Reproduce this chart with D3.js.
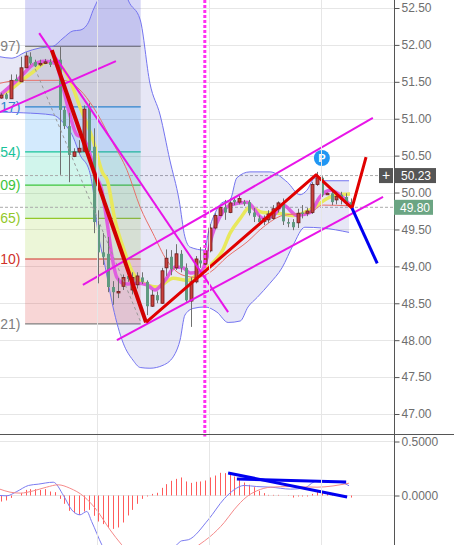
<!DOCTYPE html>
<html><head><meta charset="utf-8">
<script src="https://cdn.jsdelivr.net/npm/d3@7"></script>
<style>html,body{margin:0;padding:0;background:#fff;overflow:hidden}svg{display:block}text{font-family:"Liberation Sans",Arial,sans-serif}</style>
</head><body><div id="c"></div>
<script>
// candles: open, high, low, close
const candles=[
[51.28,51.35,51.27,51.32],[51.33,51.35,51.26,51.27],[51.27,51.60,51.27,51.52],[51.54,51.60,51.51,51.51],
[51.50,51.84,51.50,51.69],[51.69,51.90,51.69,51.85],[51.84,51.90,51.73,51.75],[51.77,51.80,51.70,51.71],
[51.73,51.80,51.71,51.75],[51.75,51.81,51.74,51.77],[51.77,51.81,51.70,51.73],[51.77,51.82,51.75,51.80],
[51.80,51.97,50.24,51.12],[51.12,51.16,50.86,50.90],[50.90,51.08,50.14,50.51],[50.49,50.60,50.48,50.55],
[50.55,50.71,50.53,50.60],[50.56,51.18,50.55,51.13],[51.16,51.21,50.55,50.57],[50.62,50.87,49.45,49.60],
[49.56,49.76,48.77,49.19],[49.19,49.45,49.02,49.13],[49.17,49.40,48.65,48.72],[48.72,48.80,48.48,48.65],
[48.64,48.84,48.57,48.66],[48.73,48.89,48.68,48.85],[48.87,48.92,48.79,48.83],[48.68,48.92,48.62,48.85],
[48.75,48.92,48.70,48.87],[48.85,48.92,48.76,48.79],[48.79,48.81,48.34,48.46],[48.46,48.68,48.45,48.61],
[48.61,48.66,48.50,48.54],[48.50,48.98,48.49,48.94],[48.98,49.23,48.87,49.11],[49.13,49.22,48.88,48.96],
[48.98,49.30,48.95,49.17],[49.17,49.22,48.92,48.98],[48.98,49.04,48.52,48.54],[48.53,48.85,48.18,48.79],
[48.79,49.14,48.77,49.10],[49.08,49.26,48.98,49.04],[49.03,49.35,49.02,49.21],[49.21,49.57,49.19,49.52],
[49.52,49.72,49.50,49.69],[49.69,49.83,49.68,49.80],[49.80,49.90,49.63,49.73],[49.73,49.92,49.72,49.86],
[49.90,49.94,49.83,49.87],[49.87,49.97,49.84,49.92],[49.87,49.90,49.82,49.85],[49.87,49.90,49.69,49.72],
[49.73,49.79,49.60,49.67],[49.65,49.69,49.55,49.60],[49.61,49.69,49.56,49.65],[49.63,49.76,49.59,49.71],
[49.65,49.83,49.63,49.78],[49.78,49.88,49.73,49.86],[49.86,49.92,49.56,49.61],[49.60,49.65,49.53,49.59],
[49.60,49.64,49.49,49.53],[49.59,49.78,49.52,49.72],[49.73,49.83,49.65,49.71],[49.72,49.79,49.68,49.75],
[49.73,50.14,49.71,50.11],[50.11,50.28,50.09,50.20],[50.20,50.22,49.94,49.97],[49.98,50.00,49.97,49.99],
[49.99,50.03,49.83,49.87],[49.90,50.01,49.84,49.95],[49.97,50.01,49.84,49.90],[49.94,49.99,49.82,49.86],
[49.87,49.92,49.78,49.80]];
const bbUpper=[[-0.3,51.84],[2.2,51.82],[4.9,51.90],[8,51.96],[10.6,51.98],[12.7,52.09],[14.8,52.19],[16.2,52.20],[17.9,52.30],[18.9,52.47],[19.9,52.61],[21.4,52.81],[23.4,52.95],[24.9,52.85],[26.1,52.61],[28.6,52.34],[30.6,51.48],[32.7,51.05],[34.7,50.44],[36.6,49.90],[37.8,49.40],[38.9,49.26],[41.9,49.22],[42.6,49.45],[44,49.72],[45.4,49.86],[47.1,49.90],[48.5,50.20],[51.2,50.28],[55.3,50.28],[58.9,50.14],[61.5,49.97],[62.9,50.03],[64.6,50.20],[66.6,50.16],[71.6,50.16]];
const bbLower=[[-0.3,51.09],[4.5,51.08],[10.6,51.05],[12.7,50.95],[14.8,50.75],[16.2,50.51],[18.1,50.30],[18.9,50.03],[19.7,49.56],[21.4,48.99],[23,48.45],[25.1,47.96],[27.1,47.73],[28.6,47.63],[30.6,47.62],[33.3,47.66],[35.8,47.82],[36.8,48.0],[37.8,48.34],[39.5,48.43],[41.9,48.45],[44.4,48.38],[46.7,48.24],[49.2,48.26],[50.8,48.45],[52.7,48.58],[55.3,48.77],[57.8,48.98],[60.1,49.29],[62.5,49.53],[66,49.52],[71.6,49.46]];
const maFast=[[-0.3,51.32],[3.9,51.56],[6.5,51.73],[9,51.78],[11.1,51.75],[12.5,51.48],[13.7,51.16],[15.6,50.78],[16.6,50.75],[17.9,50.60],[19.3,50.26],[20.7,50.03],[21.8,49.59],[22.8,49.13],[23.8,48.85],[25.5,48.76],[27.9,48.77],[30,48.75],[31.6,48.68],[33.7,48.81],[35.8,48.99],[37.4,48.98],[38.9,48.91],[40.9,48.92],[42.4,49.13],[43.4,49.42],[45,49.67],[47.1,49.83],[50.6,49.87],[53.9,49.65],[56,49.69],[58,49.83],[60.9,49.69],[63.6,49.73],[65.6,49.94],[67.7,50.03],[69.7,49.97],[71.8,49.83]];
const maMid=[[-0.3,51.32],[1.8,51.39],[3.9,51.50],[6.5,51.63],[9.4,51.77],[11.5,51.75],[14.1,51.52],[16.2,51.16],[18.9,50.71],[20.9,50.26],[21.8,50.17],[23.4,49.63],[25.5,49.18],[27.1,48.91],[30,48.75],[32.1,48.72],[35.4,48.84],[38.2,48.81],[40.9,48.92],[43.4,49.04],[45.6,49.22],[47.1,49.45],[49.2,49.65],[51.2,49.80],[53.9,49.73],[56.8,49.72],[60.1,49.69],[64.2,49.79],[67.1,49.92],[69.1,49.97],[71.8,49.98]];
const maSlow=[[-0.3,51.48],[3.9,51.52],[8.6,51.52],[12.7,51.52],[16.2,51.39],[18.9,51.16],[23,50.67],[25.9,50.30],[28.6,49.80],[31.2,49.45],[34.1,49.08],[37.4,48.88],[40.3,48.85],[43,48.92],[46.5,49.13],[50.6,49.33],[53.9,49.53],[58,49.69],[63.6,49.73],[66.2,49.83],[71.8,49.82]];
const hist=[-0.056,-0.046,-0.022,0,0.022,0.052,0.059,0.059,0.052,0.059,0.037,0.031,-0.031,-0.077,-0.142,-0.164,-0.179,-0.148,-0.133,-0.188,-0.241,-0.265,-0.296,-0.309,-0.296,-0.25,-0.185,-0.133,-0.077,-0.031,-0.009,0.015,0.025,0.071,0.105,0.136,0.154,0.167,0.130,0.117,0.127,0.130,0.139,0.167,0.185,0.21,0.207,0.198,0.176,0.145,0.12,0.099,0.077,0.043,0.022,0.006,0.006,0.006,0,-0.003,-0.019,-0.009,-0.009,-0.009,0.015,0.037,0.028,0.015,0.009,0.003,0,-0.006,-0.019];
const macd=[[-0.3,0],[1.1,-0.003],[3.2,0.037],[5.6,0.093],[7.6,0.105],[10.7,0.123],[12.8,0],[14.5,-0.133],[16.2,-0.179],[17.6,-0.148],[18.6,-0.241],[20.7,-0.457],[24,-0.70],[28,-0.75],[33,-0.55],[36.1,-0.457],[37.1,-0.42],[38.5,-0.41],[42.6,-0.225],[45.9,-0.03],[47.9,0.052],[50,0.093],[52.6,0.083],[55.5,0.077],[59.6,0.059],[62.3,0.068],[64.8,0.13],[69.9,0.12],[71.6,0.09]];
const signal=[[-0.3,0.059],[1.8,0.031],[3.9,0.022],[6.6,0.043],[9.3,0.077],[11.7,0.099],[14.1,0.068],[17,-0.009],[19.6,-0.133],[22.4,-0.318],[24.8,-0.457],[28,-0.6],[32,-0.65],[36,-0.62],[40.7,-0.457],[43,-0.38],[45.9,-0.25],[47.9,-0.133],[50.6,-0.009],[52.6,0.043],[55.5,0.077],[59.6,0.083],[65,0.077],[71.6,0.114]];
const fibLevels=[51.98,51.16,50.55,50.10,49.65,49.10,48.22];
const fibLabels=["97)","17)","54)","09)","65)","10)","21)"];
const fibColors=["#808080","#2a8ccf","#19c39a","#3cc43c","#93c82a","#d0322a","#808080"];
const fibFills=["rgba(100,100,225,.26)","rgba(120,120,120,.2)","rgba(33,150,243,.2)","rgba(0,200,150,.18)","rgba(76,200,60,.2)","rgba(160,210,60,.2)","rgba(220,50,50,.2)"];
const channels=[[[16.8,48.75],[76.5,51.01]],[[23.8,48.00],[78.6,49.94]],[[-0.3,51.09],[23.6,51.78]],[[7.8,52.16],[46.7,48.38]]];
const redFirstLeg=[[10.4,51.93],[29.8,48.24]];
const redPath=[[29.8,48.24],[64.8,50.24],[72.2,49.79],[75.1,50.48]];
const bluePath=[[72.2,49.79],[77.4,49.04]];
const fibDiagonal=[[6.5,51.75],[28.8,48.23]];
const macdTrends=[[[46.7,0.208],[71.2,-0.014]],[[48.5,0.153],[71,0.125]]];
const priceTicks=d3.range(47,52.51,0.5);
const macdTicks=[0.5,0,-0.5];
const timeGrid=[20,43,66];
const eventBar=41.9,lastPrice=49.80,crossPrice=50.23,patternBar=66;

const W=454,H=545,axisX=394.5,sepY=434.5;
const x=d3.scaleLinear().domain([0,72]).range([1.3,351]);
const y=d3.scaleLinear().domain([47,52.5]).range([414,8]);
const m=d3.scaleLinear().domain([-0.5,0.5]).range([549.5,441.5]);
const svg=d3.select("#c").append("svg").attr("width",W).attr("height",H);
const defs=svg.append("defs");
defs.append("clipPath").attr("id","main").append("rect").attr("width",axisX).attr("height",sepY);
defs.append("clipPath").attr("id","sub").append("rect").attr("y",sepY).attr("width",axisX).attr("height",H-sepY);
const grid="#e6e6e6";
const g=svg.append("g").attr("clip-path","url(#main)");
const s=svg.append("g").attr("clip-path","url(#sub)");
// grid
g.selectAll(".h").data(priceTicks).join("line").attr("x1",0).attr("x2",axisX).attr("y1",d=>Math.round(y(d))+.5).attr("y2",d=>Math.round(y(d))+.5).attr("stroke",grid);
s.selectAll(".h").data(macdTicks).join("line").attr("x1",0).attr("x2",axisX).attr("y1",d=>Math.floor(m(d))+.5).attr("y2",d=>Math.floor(m(d))+.5).attr("stroke",grid);
svg.selectAll(".v").data(timeGrid).join("line").attr("x1",d=>Math.round(x(d))-.5).attr("x2",d=>Math.round(x(d))-.5).attr("y1",0).attr("y2",H).attr("stroke",grid);
// fib
const fx0=x(4.9),fx1=x(28.7);
const bands=[y(52.61)].concat(fibLevels.map(d=>y(d)));
g.selectAll(".fb").data(fibFills).join("rect").attr("x",fx0).attr("width",fx1-fx0).attr("y",(d,i)=>bands[i]).attr("height",(d,i)=>bands[i+1]-bands[i]).attr("fill",d=>d);
g.selectAll(".fl").data(fibLevels).join("line").attr("x1",fx0).attr("x2",fx1).attr("y1",d=>y(d)).attr("y2",d=>y(d)).attr("stroke",(d,i)=>fibColors[i]).attr("stroke-width",1.2);
g.selectAll(".ft").data(fibLevels).join("text").attr("x",20.5).attr("y",d=>y(d)+5).attr("text-anchor","end").attr("font-size",14).attr("fill",(d,i)=>fibColors[i]).text((d,i)=>fibLabels[i]);
// dashed price lines
g.selectAll(".pl").data([crossPrice,lastPrice]).join("line").attr("x1",0).attr("x2",axisX).attr("y1",d=>y(d)).attr("y2",d=>y(d)).attr("stroke","#aaa").attr("stroke-dasharray","3,2");
// Bollinger
const cv=d3.curveMonotoneX;
const lineP=d3.line().x(d=>x(d[0])).y(d=>y(d[1]));
const lineC=d3.line().x(d=>x(d[0])).y(d=>y(d[1])).curve(cv);
g.append("path").attr("d",lineC(bbUpper)+"L"+lineC(bbLower.slice().reverse()).slice(1)+"Z").attr("fill","rgba(85,85,190,.14)");
g.selectAll(".bb").data([bbUpper,bbLower]).join("path").attr("d",lineC).attr("fill","none").attr("stroke","#7474f0").attr("stroke-width",1);
// MAs
g.append("path").attr("d",lineC(maMid)).attr("fill","none").attr("stroke","#e8e85c").attr("stroke-width",3.5);
g.append("path").attr("d",lineC(maFast)).attr("fill","none").attr("stroke","#e05ee0").attr("stroke-width",3.5);
g.append("path").attr("d",lineC(maSlow)).attr("fill","none").attr("stroke","#e8706a").attr("stroke-width",1);
// candles
const cg=g.append("g");
cg.selectAll("line").data(candles).join("line").attr("x1",(d,i)=>Math.round(x(i))+.5).attr("x2",(d,i)=>Math.round(x(i))+.5).attr("y1",d=>y(d[1])).attr("y2",d=>y(d[2])).attr("stroke","#707070");
cg.selectAll("rect").data(candles).join("rect").attr("x",(d,i)=>Math.round(x(i))-1).attr("width",3)
 .attr("y",d=>y(Math.max(d[0],d[3]))).attr("height",d=>Math.max(1.5,Math.abs(y(d[0])-y(d[3]))))
 .attr("fill",d=>d[3]>d[0]?"#c8403c":"#5f9a80").attr("stroke",d=>d[3]>d[0]?"#6a1c1c":"none").attr("stroke-width",.8);
// dotted vertical
g.append("line").attr("x1",x(eventBar)).attr("x2",x(eventBar)).attr("y1",0).attr("y2",sepY).attr("stroke","#ff30f0").attr("stroke-width",3).attr("stroke-dasharray","3,2");
s.append("line").attr("x1",x(eventBar)).attr("x2",x(eventBar)).attr("y1",sepY).attr("y2",sepY+2).attr("stroke","#ff30f0").attr("stroke-width",3);
// drawings
g.append("path").attr("d",lineP(fibDiagonal)).attr("fill","none").attr("stroke","#999").attr("stroke-dasharray","3,3");
g.selectAll(".ch").data(channels).join("path").attr("d",lineP).attr("fill","none").attr("stroke","#e815e8").attr("stroke-width",2);
g.append("path").attr("d",lineP(redFirstLeg)).attr("fill","none").attr("stroke","#d00000").attr("stroke-width",4);
g.append("path").attr("d",lineP(redPath)).attr("fill","none").attr("stroke","#e00000").attr("stroke-width",3).attr("stroke-linejoin","round");
g.append("path").attr("d",lineP(bluePath)).attr("fill","none").attr("stroke","#0000f0").attr("stroke-width",3);
// pattern badge
g.append("circle").attr("cx",x(patternBar)).attr("cy",158).attr("r",8).attr("fill","#2196f3");
g.append("text").attr("x",x(patternBar)).attr("y",162).attr("text-anchor","middle").attr("font-size",11).attr("font-weight","bold").attr("fill","#fff").text("P");
// MACD
const lineM=d3.line().x(d=>x(d[0])).y(d=>m(d[1])).curve(cv);
s.selectAll(".hb").data(hist).join("line").attr("x1",(d,i)=>Math.round(x(i))+.5).attr("x2",(d,i)=>Math.round(x(i))+.5).attr("y1",m(0)).attr("y2",d=>m(d)).attr("stroke","#ff5a5a");
s.append("path").attr("d",lineM(macd)).attr("fill","none").attr("stroke","#7b7bf0");
s.append("path").attr("d",lineM(signal)).attr("fill","none").attr("stroke","#f58a8a");
const lineT=d3.line().x(d=>x(d[0])).y(d=>m(d[1]));
s.selectAll(".mt").data(macdTrends).join("path").attr("d",lineT).attr("fill","none").attr("stroke","#0000f0").attr("stroke-width",3);
// separators + axes
svg.append("line").attr("x1",0).attr("x2",W).attr("y1",sepY).attr("y2",sepY).attr("stroke","#555");
svg.append("line").attr("x1",axisX).attr("x2",axisX).attr("y1",0).attr("y2",H).attr("stroke","#555");
const ax1=d3.axisRight(y).tickValues(priceTicks).tickFormat(d3.format(".2f")).tickSize(5).tickPadding(2);
const ax2=d3.axisRight(m).tickValues(macdTicks).tickFormat(d3.format(".4f")).tickSize(5).tickPadding(2);
[ax1,ax2].forEach(a=>{const t=svg.append("g").attr("transform",`translate(${axisX},0)`).call(a);
 t.select(".domain").remove();t.selectAll("line").attr("stroke","#555");t.selectAll("text").attr("font-size",12).attr("fill","#6e6e6e").attr("font-family",'"Liberation Sans",Arial,sans-serif');});
// price tags
const tag=(x0,w,p,fill,txt,tx)=>{svg.append("rect").attr("x",x0).attr("width",w).attr("y",y(p)-7.5).attr("height",15).attr("fill",fill);
 svg.append("text").attr("x",tx).attr("y",y(p)+4.5).attr("font-size",tx<390?14:12).attr("fill","#fff").attr("text-anchor",tx<390?"middle":"start").text(txt);};
tag(394,42,crossPrice,"#555555",crossPrice.toFixed(2),401);
tag(379,14,crossPrice,"#555555","+",386);
tag(394,39,lastPrice,"#6ba583",lastPrice.toFixed(2),400);
</script></body></html>
